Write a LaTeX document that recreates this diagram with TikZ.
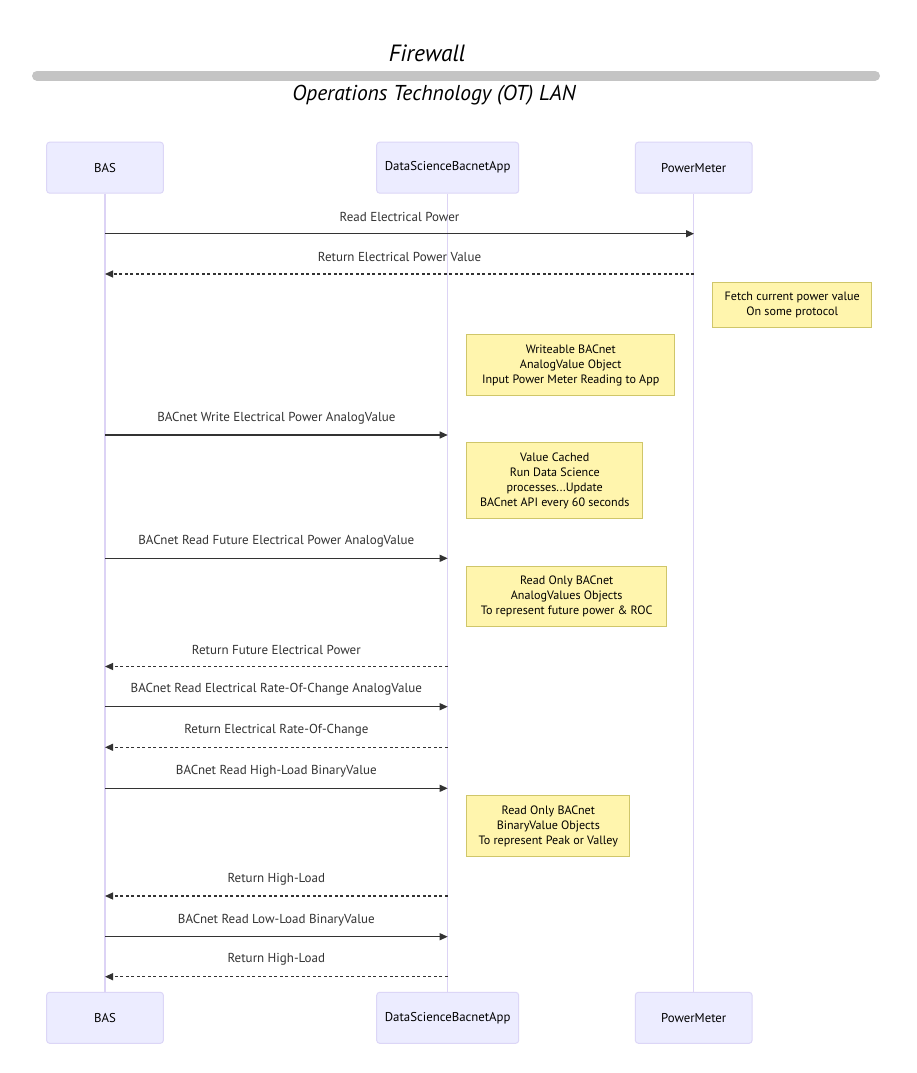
\documentclass[tikz,border=0pt]{standalone}
\usepackage{fontspec}
\setmainfont{PT Sans}
\usetikzlibrary{arrows.meta}
\definecolor{actfill}{HTML}{ECECFF}
\definecolor{actline}{HTML}{DCD6F7}
\definecolor{lifel}{HTML}{DCD3F5}
\definecolor{notefill}{HTML}{FFF5AD}
\definecolor{noteline}{HTML}{CFC66A}
\definecolor{msgc}{HTML}{333333}
\definecolor{barc}{HTML}{C4C4C4}
\tikzset{
  actor/.style={draw=actline, fill=actfill, rounded corners=3pt, line width=1pt,
    minimum height=51pt, font=\fontsize{12.8}{14}\selectfont, text=black, inner sep=0pt},
  lifeline/.style={draw=lifel, line width=1.3pt},
  notebox/.style={draw=noteline, fill=notefill, line width=1pt, align=center,
    font=\fontsize{12.1}{15}\selectfont, text=black, inner sep=0pt},
  msgsolid/.style={draw=msgc, line width=1.2pt, -{Triangle[length=8pt,width=7pt]}},
  msgdash/.style={msgsolid, dash pattern=on 3pt off 2.5pt},
  msglabel/.style={font=\fontsize{13}{14}\selectfont, text=msgc, inner sep=0pt},
  titletext/.style={font=\fontsize{21.5}{24}\selectfont\itshape, text=black, inner sep=0pt}
}
\begin{document}
\begin{tikzpicture}[x=1pt,y=-1pt]
\path[use as bounding box, fill=white] (0,0) rectangle (917,1073);

% header
\node[titletext, font=\fontsize{23.5}{26}\selectfont\itshape] (fw) at (427,53) {Firewall};
\draw[barc, line width=10pt, line cap=round] (37,75.7) -- (875,75.7);
\node[titletext] (ot) at (434,95) {Operations Technology (OT) LAN};

% actors
\node[actor, minimum width=116.7pt] (basT) at (105,167.7) {BAS};
\node[actor, minimum width=142pt] (dsT) at (447.7,167.7) {DataScienceBacnetApp};
\node[actor, minimum width=116.7pt] (pmT) at (693.7,167.7) {PowerMeter};
\node[actor, minimum width=116.7pt] (basB) at (105,1017.8) {BAS};
\node[actor, minimum width=142pt] (dsB) at (447.7,1017.8) {DataScienceBacnetApp};
\node[actor, minimum width=116.7pt] (pmB) at (693.7,1017.8) {PowerMeter};

% lifelines
\draw[lifeline] (basT.south) -- (basB.north);
\draw[lifeline] (dsT.south) -- (dsB.north);
\draw[lifeline] (pmT.south) -- (pmB.north);

% message end points
\coordinate (a1) at (105,233.7);   \coordinate (b1) at (694,233.7);
\coordinate (a2) at (694,274);     \coordinate (b2) at (105,274);
\coordinate (a3) at (105,435);     \coordinate (b3) at (447.7,435);
\coordinate (a4) at (105,558.3);   \coordinate (b4) at (447.7,558.3);
\coordinate (a5) at (447.7,666.5); \coordinate (b5) at (105,666.5);
\coordinate (a6) at (105,706.7);   \coordinate (b6) at (447.7,706.7);
\coordinate (a7) at (447.7,747.3); \coordinate (b7) at (105,747.3);
\coordinate (a8) at (105,788.3);   \coordinate (b8) at (447.7,788.3);
\coordinate (a9) at (447.7,896);   \coordinate (b9) at (105,896);
\coordinate (a10) at (105,936.7);  \coordinate (b10) at (447.7,936.7);
\coordinate (a11) at (447.7,976.7); \coordinate (b11) at (105,976.7);

% messages
\draw[msgsolid] (a1) -- (b1) node[msglabel, midway, yshift=17pt] (l1) {Read Electrical Power};
\draw[msgdash] (a2) -- (b2) node[msglabel, midway, yshift=17pt] (l2) {Return Electrical Power Value};
\draw[msgsolid] (a3) -- (b3) node[msglabel, midway, yshift=17pt] (l3) {BACnet Write Electrical Power AnalogValue};
\draw[msgsolid] (a4) -- (b4) node[msglabel, midway, yshift=17pt] (l4) {BACnet Read Future Electrical Power AnalogValue};
\draw[msgdash] (a5) -- (b5) node[msglabel, midway, yshift=17pt] (l5) {Return Future Electrical Power};
\draw[msgsolid] (a6) -- (b6) node[msglabel, midway, yshift=17pt] (l6) {BACnet Read Electrical Rate-Of-Change AnalogValue};
\draw[msgdash] (a7) -- (b7) node[msglabel, midway, yshift=17pt] (l7) {Return Electrical Rate-Of-Change};
\draw[msgsolid] (a8) -- (b8) node[msglabel, midway, yshift=17pt] (l8) {BACnet Read High-Load BinaryValue};
\draw[msgdash] (a9) -- (b9) node[msglabel, midway, yshift=17pt] (l9) {Return High-Load};
\draw[msgsolid] (a10) -- (b10) node[msglabel, midway, yshift=17pt] (l10) {BACnet Read Low-Load BinaryValue};
\draw[msgdash] (a11) -- (b11) node[msglabel, midway, yshift=17pt] (l11) {Return High-Load};

% notes
\node[notebox, minimum width=159pt, minimum height=45.3pt] (n1) at (792.2,304.7)
  {Fetch current power value\\On some protocol};
\node[notebox, minimum width=208pt, minimum height=60.6pt] (n2) at (570.7,365)
  {Writeable BACnet\\AnalogValue Object\\Input Power Meter Reading to App};
\node[notebox, minimum width=176pt, minimum height=75.6pt] (n3) at (554.7,480.5)
  {Value Cached\\Run Data Science\\processes...Update\\BACnet API every 60 seconds};
\node[notebox, minimum width=200pt, minimum height=60pt] (n4) at (566.7,596)
  {Read Only BACnet\\AnalogValues Objects\\To represent future power \& ROC};
\node[notebox, minimum width=163.3pt, minimum height=60.3pt] (n5) at (548.3,826)
  {Read Only BACnet\\BinaryValue Objects\\To represent Peak or Valley};
\end{tikzpicture}
\end{document}
